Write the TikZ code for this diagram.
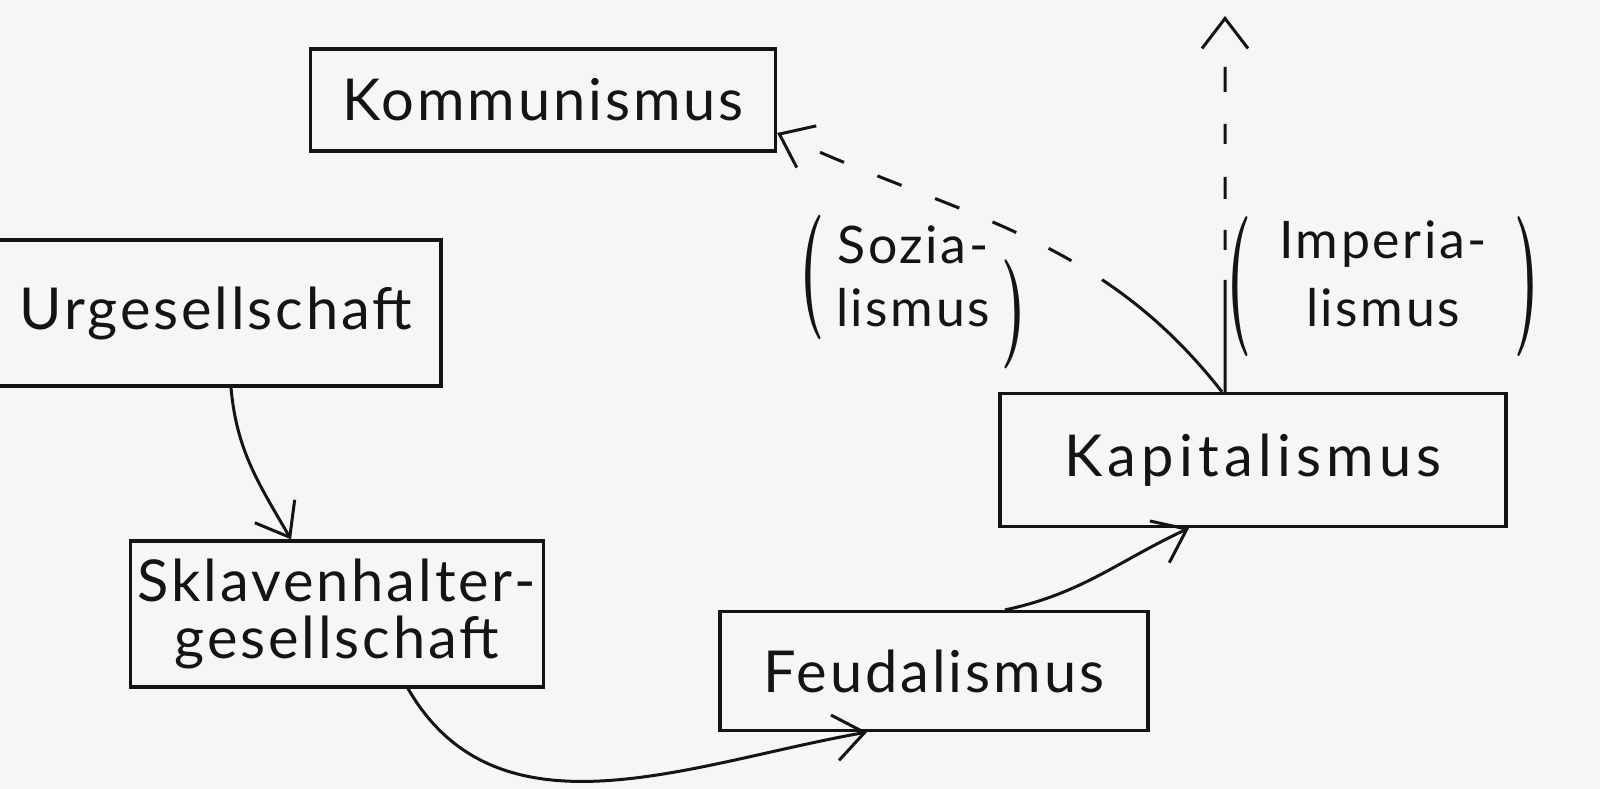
\documentclass[tikz,border=0pt]{standalone}
\usepackage{fontspec}
\setmainfont{Lato}[LetterSpace=5]
\newfontfamily\parenfont{Latin Modern Roman}
\usepackage{xcolor}
\definecolor{ink}{HTML}{141414}
\definecolor{paper}{HTML}{F6F6F6}
\usepackage{tikz}
\usetikzlibrary{arrows.meta}
% stretched bracket: #1 vertical scale, #2 lowering, #3 glyph
\newcommand{\tallparen}[3]{\raisebox{#2}{\scalebox{1.1}[#1]{\parenfont\bfseries #3}}}

\begin{document}
\begin{tikzpicture}[x=1bp,y=-1bp,>={Straight Barb[length=30bp,width=46bp]},
  every node/.style={font=\fontsize{58}{58}\selectfont,text=ink},
  stage/.style={draw=ink,line width=3.2bp,rectangle,inner sep=4pt,align=center},
  flow/.style={->,draw=ink,line width=3bp}]
\fill[paper] (0,0) rectangle (1600,789);
\useasboundingbox (0,0) rectangle (1600,789);
\node[stage,minimum width=465bp,minimum height=102bp] (kom) at (543,100) {Kommunismus};
\node[stage,minimum width=450bp,minimum height=146bp] (urg) at (216,313) {Urgesellschaft};
\node[stage,minimum width=413bp,minimum height=146bp] (skl) at (337,614) {Sklavenhalter-\\gesellschaft};
\node[stage,minimum width=428bp,minimum height=119bp] (feu) at (934,671) {Feudalismus};
\node[stage,minimum width=506bp,minimum height=133bp,font=\fontsize{58}{58}\selectfont\addfontfeature{LetterSpace=9}] (kap) at (1253,460) {Kapitalismus};
\node[font=\fontsize{52}{64}\selectfont] (soz) at (913,292)
  {\tallparen{2.4}{-20bp}{(}\hspace{12bp}\begin{tabular}{@{}c@{}}Sozia-\\lismus\end{tabular}\hspace{12bp}\tallparen{2.1}{-53bp}{)}};
\node[font=\fontsize{52}{68}\selectfont] (imp) at (1383,284)
  {\tallparen{2.7}{-37bp}{(}\hspace{28bp}\begin{tabular}{@{}c@{}}Imperia-\\lismus\end{tabular}\hspace{28bp}\tallparen{2.7}{-37bp}{)}};
\coordinate (top) at (1225,16);
\draw[flow] ([xshift=15bp]urg.south) to[out=-85,in=120] ([xshift=-46bp]skl.north);
\draw[flow] ([xshift=71bp]skl.south) to[out=-60,in=-170] ([xshift=-67bp]feu.south);
\draw[flow] ([xshift=71bp]feu.north) to[out=12,in=-155] ([xshift=-64bp]kap.south);
\draw[flow,dash pattern=on 112bp off 30bp on 20bp off 31bp on 22bp off 33bp on 20bp off 32bp on 25bp off 120bp]
  ([xshift=-28bp]kap.north) -- (top);
\draw[flow,dash pattern=on 165bp off 36bp on 26bp off 36bp on 26bp off 36bp on 26bp off 36bp on 26bp off 36bp on 26bp off 120bp]
  ([xshift=-31bp]kap.north) to[out=128,in=-25] ([yshift=-33bp]kom.east);
\end{tikzpicture}
\end{document}
